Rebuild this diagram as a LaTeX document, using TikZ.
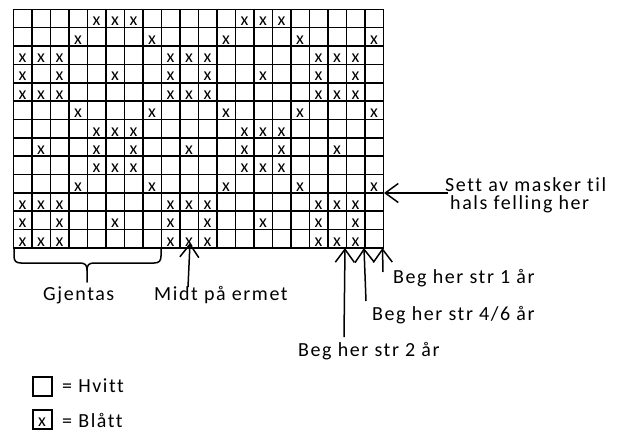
\documentclass[tikz,border=0pt]{standalone}
\usepackage{fontspec}
\setmainfont{Carlito}[LetterSpace=8,Ligatures=NoCommon]
\newfontfamily\xfont{Carlito}
\usetikzlibrary{arrows.meta}
\begin{document}
\begin{tikzpicture}[x=1pt,y=-1pt,
  gridline/.style={line width=1.6pt, black, line cap=rect},
  lbl/.style={font=\fontsize{20}{20}\selectfont, inner sep=0pt, anchor=base west, text depth=0pt},
  xmark/.style={font=\xfont\fontsize{18}{18}\selectfont, inner sep=0pt, anchor=base, text depth=0pt},
  arr/.style={line width=1.5pt, -{Straight Barb[length=13pt,width=19pt,line width=1.5pt]}},
  bracestyle/.style={line width=1.5pt, line join=round, line cap=round},
  legbox/.style={draw, line width=2pt, minimum size=19pt, inner sep=0pt, anchor=north west}]
\useasboundingbox (0,0) rectangle (625,432);
\def\gx{13.3}
\def\gy{9.3}
\def\cw{18.5}
\def\ch{18.36}
% grid
\foreach \i in {0,...,20}
  \draw[gridline] ({\gx+\i*\cw},\gy) -- ({\gx+\i*\cw},{\gy+13*\ch});
\foreach \j in {0,...,13}
  \draw[gridline] (\gx,{\gy+\j*\ch}) -- ({\gx+20*\cw},{\gy+\j*\ch});
% x marks
\foreach \r/\cols in {1/{5,6,7,13,14,15}, 2/{4,8,12,16,20}, 3/{1,2,3,9,10,11,17,18,19},
  4/{1,3,6,9,11,14,17,19}, 5/{1,2,3,9,10,11,17,18,19}, 6/{4,8,12,16,20},
  7/{5,6,7,13,14,15}, 8/{2,5,7,10,13,15,18}, 9/{5,6,7,13,14,15}, 10/{4,8,12,16,20},
  11/{1,2,3,9,10,11,17,18,19}, 12/{1,3,6,9,11,14,17,19}, 13/{1,2,3,9,10,11,17,18,19}}
  \foreach \c in \cols
    \node[xmark] (x-\r-\c) at ({\gx+(\c-0.5)*\cw},{\gy+\r*\ch-1.8}) {x};
% brace
\draw[bracestyle] (14,249) -- (14,256) .. controls (14,261) and (16,263) .. (21,263) -- (80,263) .. controls (85,263) and (87,265) .. (87,270) -- (87,282);
\draw[bracestyle] (161,249) -- (161,256) .. controls (161,261) and (159,263) .. (154,263) -- (94,263) .. controls (89,263) and (87,265) .. (87,270);
% labels
\node[lbl] (sett) at (445,191) {Sett av masker til};
\node[lbl] (hals) at (450,209) {hals felling her};
\node[lbl] (str1) at (393,283) {Beg her str 1 år};
\node[lbl] (str46) at (372,320) {Beg her str 4/6 år};
\node[lbl] (str2) at (298,356) {Beg her str 2 år};
\node[lbl] (gjentas) at (43,300) {Gjentas};
\node[lbl] (midt) at (154,300) {Midt på ermet};
% arrows
\coordinate (halsS) at (448,193);
\coordinate (halsT) at (384,193);
\coordinate (s1S) at (383,272);
\coordinate (s1T) at (382.5,248);
\coordinate (s46S) at (366,301);
\coordinate (s46T) at (364,248);
\coordinate (s2S) at (344,337);
\coordinate (s2T) at (345,248);
\coordinate (mS) at (188,287);
\coordinate (mT) at (190,243);
\draw[arr] (halsS) -- (halsT);
\draw[arr] (s1S) -- (s1T);
\draw[arr] (s46S) -- (s46T);
\draw[arr] (s2S) -- (s2T);
\draw[arr] (mS) -- (mT);
% legend
\node[legbox] (boxH) at (32,376) {};
\node[legbox] (boxB) at (32,409) {};
\node[xmark] (boxBx) at (42,426) {x};
\node[lbl] (hvitt) at (62,392) {= Hvitt};
\node[lbl] (blatt) at (62,427) {= Blått};
\end{tikzpicture}
\end{document}
